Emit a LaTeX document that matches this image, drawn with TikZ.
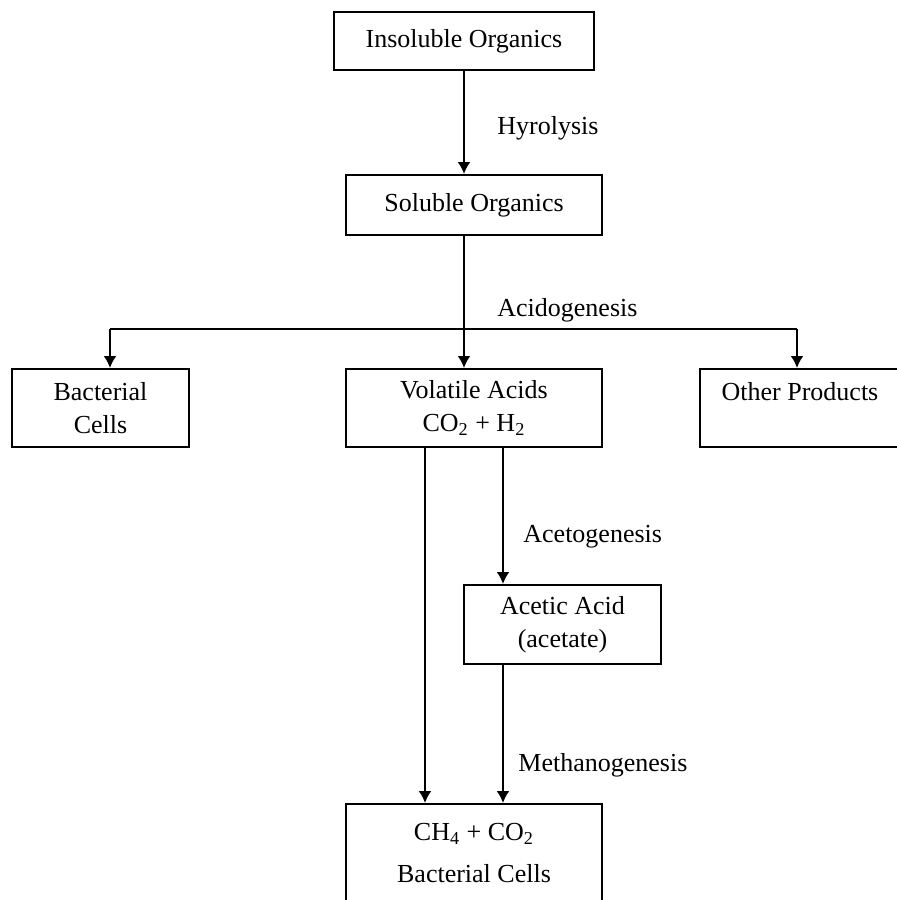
\documentclass[tikz,border=0pt]{standalone}
\usepackage{fontspec}
\setmainfont{Liberation Serif}
\usetikzlibrary{arrows.meta}

\begin{document}
\begin{tikzpicture}[x=0.5pt, y=-0.5pt]
    \tikzset{stage/.style = {shape=rectangle, draw, line width=1pt, align=center, inner sep=0pt, font=\fontsize{13}{16.5}\selectfont}}
    \tikzset{process/.style = {anchor=west, inner sep=0pt, font=\fontsize{13}{16.5}\selectfont}}
    \tikzset{flow/.style = {draw, line width=1pt, -{Latex[length=6pt, width=6.5pt]}}}
    \tikzset{feed/.style = {draw, line width=1pt, -}}

    \useasboundingbox (0,0) rectangle (896,900);

    % vertices
    \node[stage, minimum width=130pt, minimum height=29pt] (ins) at (464,41) {Insoluble Organics};
    \node[stage, minimum width=128pt, minimum height=30pt] (sol) at (474,205) {Soluble Organics};
    \node[stage, minimum width=88.5pt, minimum height=39pt] (bac) at (100.5,408) {Bacterial\\Cells};
    \node[stage, minimum width=128pt, minimum height=39pt] (vol) at (474,408) {Volatile Acids\\CO\textsubscript{2} + H\textsubscript{2}};
    \node[stage, minimum width=120pt, minimum height=39pt] (oth) at (820,408) {Other Products\hspace*{20pt}\\\mbox{}};
    \node[stage, minimum width=98.5pt, minimum height=39.5pt] (ace) at (562.5,624.5) {Acetic Acid\\(acetate)};
    \node[stage, minimum width=128pt, minimum height=49pt] (bot) at (474,853) {CH\textsubscript{4} + CO\textsubscript{2}\\[4.5pt]Bacterial Cells};

    % junctions
    \coordinate (split) at (464,329);
    \coordinate (left) at (110,329);
    \coordinate (right) at (797,329);
    \coordinate (vl) at (425,447);
    \coordinate (vr) at (503,447);

    % edges
    \draw [flow] (ins.south) -- (ins.south |- sol.north);
    \draw [feed] (sol.south -| split) -- (split);
    \draw [flow] (split) -- (split |- vol.north);
    \draw [feed] (left) -- (right);
    \draw [flow] (left) -- (left |- bac.north);
    \draw [flow] (right) -- (right |- oth.north);
    \draw [flow] (vl) -- (vl |- bot.north);
    \draw [flow] (vr) -- (vr |- ace.north);
    \draw [flow] (ace.south -| vr) -- (vr |- bot.north);

    % labels
    \node[process] (hyd) at (497,128) {Hyrolysis};
    \node[process] (acd) at (497,310) {Acidogenesis};
    \node[process] (acg) at (523,537) {Acetogenesis};
    \node[process] (met) at (518,765) {Methanogenesis};
\end{tikzpicture}
\end{document}
